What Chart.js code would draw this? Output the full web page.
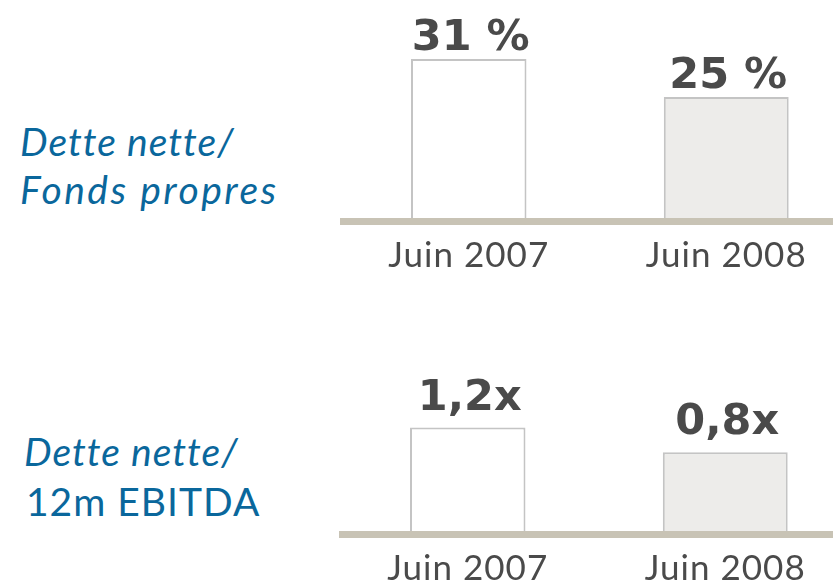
<!DOCTYPE html>
<html>
<head>
<meta charset="utf-8">
<script src="https://cdn.jsdelivr.net/npm/chart.js@4.4.1/dist/chart.umd.min.js"></script>
<style>
  html, body { margin: 0; padding: 0; background: #fff; overflow: hidden; width: 833px; height: 583px; }
  .wrap { position: relative; width: 833px; height: 583px; overflow: hidden; }
  canvas { position: absolute; }
  .lbl { position: absolute; color: #0a679c; font-family: Lato, sans-serif; font-size: 39px; line-height: 1.2; letter-spacing: 1px; white-space: nowrap; }
  .it { font-style: italic; }
</style>
</head>
<body>
<div class="wrap">
  <div class="lbl it" style="left:20px; top:118px;">Dette nette/</div>
  <div class="lbl it" style="left:20px; top:166px; letter-spacing:2.5px;">Fonds propres</div>
  <div class="lbl it" style="left:24px; top:428px;">Dette nette/</div>
  <div class="lbl" style="left:26px; top:478px;">12m EBITDA</div>
  <canvas id="ratioChart" width="515" height="291" style="left:340px; top:0px;"></canvas>
  <canvas id="ebitdaChart" width="515" height="294" style="left:339px; top:310px;"></canvas>
</div>
<script>
const categories = ["Juin 2007", "Juin 2008"];
const ratioValues = [31, 25];
const ratioLabels = ["31 %", "25 %"];
const ebitdaValues = [1.2, 0.8];
const ebitdaLabels = ["1,2x", "0,8x"];

const barFills = ["#ffffff", "#edecea"];
const barWidths = [0.4485, 0.485];

// texte au-dessus des barres + espacement des libellés de l'axe
const valueLabels = {
  id: "valueLabels",
  beforeDraw(chart) {
    chart.ctx.letterSpacing = "1px";
  },
  afterDatasetsDraw(chart, args, opts) {
    const ctx = chart.ctx;
    ctx.save();
    ctx.letterSpacing = "0px";
    ctx.font = "bold 43px 'DejaVu Sans'";
    ctx.fillStyle = "#4a4a4a";
    ctx.textAlign = "center";
    ctx.textBaseline = "alphabetic";
    chart.data.datasets.forEach((ds, d) => {
      const meta = chart.getDatasetMeta(d);
      meta.data.forEach((bar, i) => {
        if (ds.data[i] == null) return;
        ctx.fillText(opts.labels[i], bar.x + 2, bar.y - opts.gap);
      });
    });
    ctx.restore();
  },
  afterDraw(chart) {
    chart.ctx.letterSpacing = "0px";
  }
};

function makeChart(id, values, labels, yMin, yMax, gap) {
  // une série par catégorie pour garder la largeur propre à chaque barre
  const datasets = categories.map((c, i) => ({
    data: values.map((v, j) => (j === i ? v : null)),
    backgroundColor: barFills[i],
    borderColor: "#c4c4c4",
    borderWidth: 2,
    barPercentage: barWidths[i],
    categoryPercentage: 1,
    grouped: false,
    base: yMin
  }));
  return new Chart(document.getElementById(id), {
    type: "bar",
    data: { labels: categories, datasets: datasets },
    options: {
      responsive: false,
      animation: false,
      layout: { padding: 0 },
      plugins: {
        legend: { display: false },
        tooltip: { enabled: false },
        valueLabels: { labels: labels, gap: gap }
      },
      scales: {
        x: {
          grid: { display: false, drawTicks: false },
          border: { display: true, color: "#c8c3b5", width: 7, z: 1 },
          ticks: {
            color: "#4a4a4a",
            padding: 14,
            font: { family: "Lato", size: 35 }
          },
          afterFit(scale) { scale.height = 70; }
        },
        y: { display: false, min: yMin, max: yMax }
      }
    },
    plugins: [valueLabels]
  });
}

makeChart("ratioChart", ratioValues, ratioLabels, 5.4, 40.3, 9);
makeChart("ebitdaChart", ebitdaValues, ebitdaLabels, -0.53, 3.11, 18);
</script>
</body>
</html>
